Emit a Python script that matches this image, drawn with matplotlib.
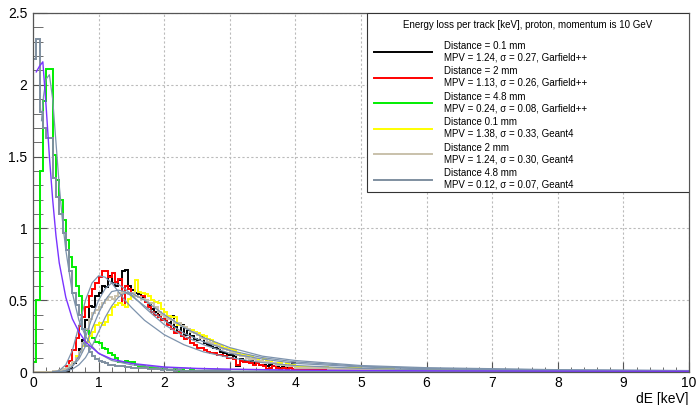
import numpy as np
import matplotlib
matplotlib.use('Agg')
from matplotlib import pyplot as plt
from matplotlib.patches import Rectangle
from matplotlib.ticker import MultipleLocator, FuncFormatter

plt.rcParams['font.family'] = ['Liberation Sans', 'DejaVu Sans']

# histogram binning: 0.05 keV bins up to 4 keV, then coarse 0.5 keV bins for the flat tail
fine_edges = np.round(np.arange(0, 4.0001, 0.05), 3)
tail_edges = np.arange(4.5, 10.0001, 0.5)
edges = np.concatenate([fine_edges, tail_edges])

def fine(start, vals):
    # values listed from bin starting at `start`, zero before
    n0 = int(round(start / 0.05))
    out = [0.0] * n0 + list(vals)
    return out + [0.0] * (80 - len(out))

black_h = fine(0.50, [0.01, 0.03, 0.06, 0.10, 0.16, 0.22, 0.36, 0.46, 0.45, 0.53,
                      0.55, 0.60, 0.59, 0.67, 0.62, 0.60, 0.64, 0.70, 0.71, 0.60,
                      0.57, 0.55, 0.54, 0.52, 0.50, 0.47, 0.44, 0.42, 0.40, 0.37,
                      0.36, 0.34, 0.39, 0.31, 0.28, 0.33, 0.26, 0.29, 0.25, 0.23,
                      0.22, 0.25, 0.20, 0.19, 0.18, 0.17, 0.16, 0.14, 0.13, 0.12,
                      0.12, 0.11, 0.04, 0.09, 0.08, 0.07, 0.08, 0.06, 0.06, 0.05,
                      0.05, 0.04, 0.05, 0.04, 0.04, 0.03, 0.04, 0.03, 0.03, 0.06])
black_t = [0.025, 0.02, 0.015, 0.01, 0.008, 0.007, 0.006, 0.005, 0.005, 0.004, 0.004, 0.003]

red_h = fine(0.45, [0.02, 0.04, 0.08, 0.15, 0.24, 0.32, 0.38, 0.45, 0.53, 0.58,
                    0.62, 0.66, 0.70, 0.70, 0.66, 0.69, 0.63, 0.65, 0.47, 0.60,
                    0.58, 0.55, 0.53, 0.52, 0.53, 0.49, 0.45, 0.42, 0.40, 0.38,
                    0.36, 0.37, 0.33, 0.30, 0.27, 0.28, 0.25, 0.23, 0.24, 0.20,
                    0.19, 0.17, 0.17, 0.15, 0.14, 0.13, 0.13, 0.12, 0.12, 0.11,
                    0.10, 0.10, 0.09, 0.05, 0.08, 0.07, 0.07, 0.06, 0.05, 0.06,
                    0.05, 0.04, 0.02, 0.03, 0.04, 0.03, 0.02, 0.03, 0.02, 0.03,
                    0.02])
red_t = [0.015, 0.012, 0.008, 0.006, 0.005, 0.004, 0.003, 0.003, 0.002, 0.002, 0.002, 0.002]

green_h = fine(0.0, [0.07, 0.50, 1.40, 1.89, 2.11, 2.11, 1.51, 1.34, 1.20, 1.06,
                     0.92, 0.80, 0.73, 0.60, 0.53, 0.30, 0.29, 0.25, 0.24, 0.21,
                     0.20, 0.17, 0.16, 0.13, 0.12, 0.10, 0.07, 0.07, 0.08, 0.07,
                     0.07, 0.05, 0.04, 0.04, 0.035, 0.03, 0.03, 0.025, 0.02, 0.02,
                     0.025, 0.015, 0.015, 0.02, 0.01, 0.015, 0.01, 0.01, 0.015, 0.01,
                     0.01, 0.008, 0.01, 0.008, 0.006, 0.008, 0.006, 0.005, 0.006, 0.005])
green_t = [0.004, 0.003, 0.002, 0.002, 0.001, 0.001, 0.001, 0.001, 0.001, 0.0, 0.0, 0.0]

yellow_h = fine(0.40, [0.01, 0.02, 0.03, 0.05, 0.07, 0.11, 0.14, 0.18, 0.21, 0.25,
                       0.28, 0.33, 0.34, 0.33, 0.35, 0.40, 0.45, 0.47, 0.48, 0.47,
                       0.45, 0.51, 0.53, 0.64, 0.56, 0.55, 0.54, 0.53, 0.50, 0.49,
                       0.48, 0.44, 0.42, 0.39, 0.38, 0.38, 0.33, 0.32, 0.31, 0.30,
                       0.29, 0.28, 0.27, 0.26, 0.25, 0.23, 0.22, 0.20, 0.19, 0.18,
                       0.17, 0.16, 0.16, 0.15, 0.13, 0.12, 0.12, 0.11, 0.11, 0.09,
                       0.09, 0.08, 0.09, 0.08, 0.07, 0.06, 0.06, 0.06, 0.05, 0.06,
                       0.05, 0.05])
yellow_t = [0.035, 0.025, 0.02, 0.015, 0.012, 0.01, 0.008, 0.007, 0.006, 0.005, 0.004, 0.004]

tan_h = fine(0.30, [0.005, 0.01, 0.015, 0.02, 0.03, 0.05, 0.07, 0.10, 0.14, 0.20,
                    0.30, 0.37, 0.41, 0.43, 0.45, 0.48, 0.50, 0.52, 0.51, 0.53,
                    0.55, 0.56, 0.55, 0.54, 0.55, 0.53, 0.52, 0.51, 0.50, 0.48,
                    0.48, 0.45, 0.42, 0.40, 0.38, 0.37, 0.36, 0.34, 0.34, 0.32,
                    0.31, 0.30, 0.28, 0.27, 0.26, 0.24, 0.23, 0.21, 0.20, 0.19,
                    0.18, 0.17, 0.16, 0.15, 0.14, 0.13, 0.12, 0.11, 0.11, 0.10,
                    0.09, 0.09, 0.08, 0.08, 0.07, 0.07, 0.06, 0.06, 0.05, 0.05,
                    0.05, 0.04, 0.04, 0.04])
tan_t = [0.03, 0.022, 0.016, 0.012, 0.01, 0.008, 0.007, 0.006, 0.005, 0.004, 0.004, 0.003]

slate_h = fine(0.0, [2.18, 2.32, 1.81, 1.70, 1.63, 1.63, 1.35, 1.22, 1.10, 0.97,
                     0.85, 0.70, 0.55, 0.47, 0.40, 0.30, 0.18, 0.14, 0.11, 0.09,
                     0.08, 0.07, 0.06, 0.05, 0.05, 0.045, 0.04, 0.04, 0.035, 0.035,
                     0.03, 0.03, 0.03, 0.025, 0.025, 0.02, 0.02, 0.02, 0.02, 0.015,
                     0.02, 0.015, 0.015, 0.01, 0.015, 0.01, 0.01, 0.01, 0.01, 0.008,
                     0.01, 0.008, 0.008, 0.006, 0.008, 0.006, 0.006, 0.005, 0.006, 0.005])
slate_t = [0.004, 0.003, 0.003, 0.002, 0.002, 0.001, 0.001, 0.001, 0.001, 0.001, 0.0, 0.0]

# Landau fit curves
fit_x = [0.3, 0.4, 0.5, 0.6, 0.7, 0.8, 0.9, 1.0, 1.1, 1.2, 1.3, 1.4, 1.5, 1.7,
         2.0, 2.3, 2.6, 3.0, 3.5, 4.0, 5.0, 6.0, 8.0, 10.0]
red_fit = [0.0, 0.01, 0.05, 0.15, 0.32, 0.50, 0.62, 0.67, 0.66, 0.62, 0.56, 0.50,
           0.45, 0.36, 0.26, 0.19, 0.14, 0.10, 0.065, 0.045, 0.025, 0.016, 0.009, 0.006]
black_fit = [0.0, 0.0, 0.01, 0.04, 0.11, 0.24, 0.38, 0.50, 0.58, 0.62, 0.61, 0.58,
             0.54, 0.45, 0.33, 0.25, 0.19, 0.13, 0.09, 0.06, 0.035, 0.022, 0.012, 0.008]
tan_fit = [0.0, 0.0, 0.01, 0.04, 0.09, 0.18, 0.30, 0.41, 0.50, 0.56, 0.57, 0.56,
           0.53, 0.46, 0.36, 0.27, 0.21, 0.15, 0.10, 0.07, 0.04, 0.025, 0.014, 0.009]
yellow_fit = [0.0, 0.0, 0.005, 0.02, 0.05, 0.10, 0.18, 0.28, 0.38, 0.46, 0.52, 0.55,
              0.55, 0.50, 0.40, 0.31, 0.24, 0.17, 0.11, 0.08, 0.045, 0.03, 0.016, 0.01]

green_fit_x = [0.13, 0.16, 0.2, 0.25, 0.3, 0.35, 0.4, 0.45, 0.5, 0.6, 0.7, 0.8, 0.9,
               1.0, 1.2, 1.5, 2.0, 3.0, 4.0, 6.0, 8.0, 10.0]
green_fit = [1.75, 1.92, 2.04, 2.07, 1.90, 1.60, 1.30, 1.05, 0.85, 0.55, 0.36, 0.25,
             0.18, 0.13, 0.08, 0.05, 0.03, 0.015, 0.01, 0.006, 0.004, 0.003]

purple_fit_x = [0.05, 0.1, 0.15, 0.2, 0.25, 0.3, 0.35, 0.4, 0.5, 0.6, 0.7, 0.8, 0.9,
                1.0, 1.2, 1.5, 2.0, 2.5, 3.0, 4.0, 5.0, 6.0, 8.0, 10.0]
purple_fit = [2.09, 2.13, 2.16, 1.85, 1.50, 1.20, 0.95, 0.76, 0.52, 0.37, 0.28, 0.21,
              0.17, 0.13, 0.09, 0.06, 0.035, 0.025, 0.02, 0.013, 0.01, 0.008, 0.006, 0.005]

labels = ['Distance = 0.1 mm\nMPV = 1.24, \u03c3 = 0.27, Garfield++',
          'Distance = 2 mm\nMPV = 1.13, \u03c3 = 0.26, Garfield++',
          'Distance = 4.8 mm\nMPV = 0.24, \u03c3 = 0.08, Garfield++',
          'Distance 0.1 mm\nMPV = 1.38, \u03c3 = 0.33, Geant4',
          'Distance 2 mm\nMPV = 1.24, \u03c3 = 0.30, Geant4',
          'Distance 4.8 mm\nMPV = 0.12, \u03c3 = 0.07, Geant4']
colors = ['#000000', '#ff0000', '#00ee00', '#ffff00', '#c9c1ab', '#7f8fa0']
hists = [black_h + black_t, red_h + red_t, green_h + green_t,
         yellow_h + yellow_t, tan_h + tan_t, slate_h + slate_t]

fit_col = '#7d93ad'

fig = plt.figure(figsize=(6.98, 4.05), dpi=100)
ax = fig.add_axes([33/698, 33/405, 656/698, 359/405])

ax.grid(True, color='#bbbbbb', linestyle=(0, (2, 2)), linewidth=0.8)
ax.set_axisbelow(True)

handles = []
for h, c, lab in zip(hists, colors, labels):
    ax.stairs(h, edges, baseline=0, color=c, linewidth=1.4)
    handles.append(plt.Line2D([], [], color=c, linewidth=1.4, label=lab))

for fy in [black_fit, tan_fit, yellow_fit, red_fit]:
    ax.plot(fit_x, fy, color=fit_col, linewidth=0.9)
ax.plot(green_fit_x, green_fit, color=fit_col, linewidth=0.9)
ax.plot(purple_fit_x, purple_fit, color='#7a33ff', linewidth=1.0)

ax.set_xlim(0, 10)
ax.set_ylim(0, 2.5)
ax.xaxis.set_major_locator(MultipleLocator(1))
ax.xaxis.set_minor_locator(MultipleLocator(0.2))
ax.yaxis.set_major_locator(MultipleLocator(0.5))
ax.yaxis.set_minor_locator(MultipleLocator(0.1))
fmt = FuncFormatter(lambda v, p: '%g' % v)
ax.xaxis.set_major_formatter(fmt)
ax.yaxis.set_major_formatter(fmt)
ax.tick_params(axis='both', which='both', direction='in', top=False, right=False,
               labelsize=10, color='#555555')
ax.tick_params(axis='x', which='major', length=7, pad=3)
ax.tick_params(axis='x', which='minor', length=3.5)
ax.tick_params(axis='y', which='major', length=10, pad=4)
ax.tick_params(axis='y', which='minor', length=7)
for s in ax.spines.values():
    s.set_color('#555555')
    s.set_linewidth(0.9)

ax.set_xlabel('dE [keV]', loc='right', fontsize=10, labelpad=1)

# legend box drawn separately so its padding can match the original
box = Rectangle((0.509, 0.501), 0.491, 0.499, transform=ax.transAxes,
                facecolor='white', edgecolor='#333333', linewidth=0.8, zorder=4.5)
ax.add_patch(box)
leg = ax.legend(handles=handles, loc='upper left',
                bbox_to_anchor=(0.509, 0.501, 0.491, 0.499), mode='expand',
                title='Energy loss per track [keV], proton, momentum is 10 GeV',
                title_fontsize=7, fontsize=7, frameon=False, borderaxespad=0,
                handlelength=5.9, handletextpad=1.3, labelspacing=0.4,
                borderpad=0.75)
leg._legend_box.sep = 7.5

fig.savefig('out.png', dpi=100)
